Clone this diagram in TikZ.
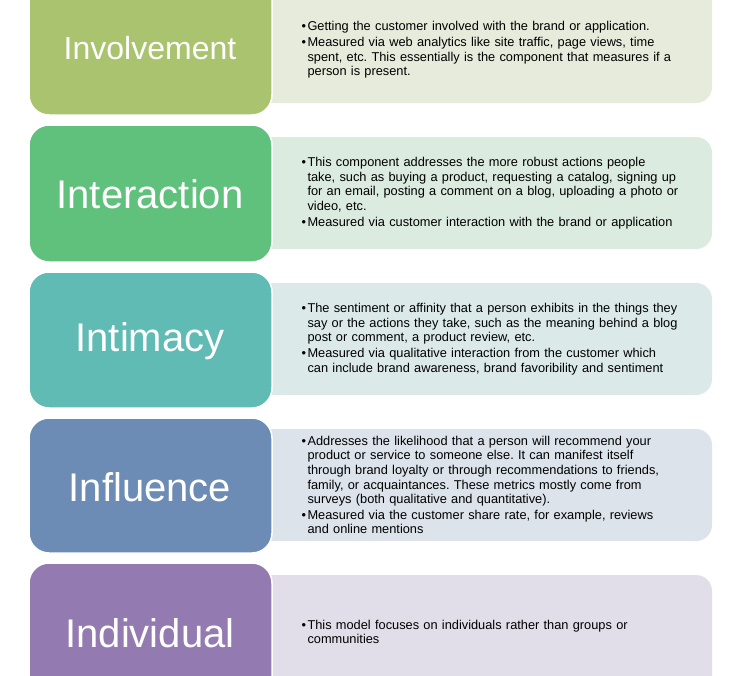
\documentclass[tikz,border=0pt]{standalone}
\usepackage{fontspec}
\setmainfont{Liberation Sans}
\frenchspacing
\begin{document}
\begin{tikzpicture}[x=1pt,y=-1pt,
 lbox/.style={draw=white,line width=1.5pt,rounded corners=20pt},
 tbox/.style={rounded corners=16pt},
 title/.style={white,font=\fontsize{40}{44}\selectfont},
 body/.style={anchor=west,align=left,font=\fontsize{12.8}{14.6}\selectfont,text width=430pt}]
\useasboundingbox (0,0) rectangle (731,675);
\clip (0,0) rectangle (731,675);
\definecolor{c1}{HTML}{A9C36F}\definecolor{t1}{HTML}{E6EBDC}
\definecolor{c2}{HTML}{5FC17C}\definecolor{t2}{HTML}{DBEBE0}
\definecolor{c3}{HTML}{5FBBB4}\definecolor{t3}{HTML}{DBEAE9}
\definecolor{c4}{HTML}{6C8CB6}\definecolor{t4}{HTML}{DDE3EB}
\definecolor{c5}{HTML}{937BB2}\definecolor{t5}{HTML}{E2DEE9}
\newcommand\bl{\makebox[6pt][l]{•}}
\foreach \i/\lt/\lb/\rt/\rb in {1/-20/115/-20/103, 2/125/262/137/249, 3/272/408/283/395, 4/418/553/429/541, 5/563/700/575/700}{
  \fill[t\i,tbox] (240,\rt) rectangle (712,\rb);
  \fill[c\i,lbox] (29,\lt) rectangle (272,\lb);
}
\node[title,font=\fontsize{32}{36}\selectfont] (n1) at (150,48) {Involvement};
\node[title] (n2) at (150,194) {Interaction};
\node[title] (n3) at (150,341) {Intimacy};
\node[title] (n4) at (150,487) {Influence};
\node[title] (n5) at (150,633) {Individual};
\node[body] (b1) at (298,50) {\bl Getting the customer involved with the brand or application.\\[1pt]
\bl Measured via web analytics like site traffic, page views, time\\\hspace*{6pt}spent, etc. This essentially is the component that measures if a\\\hspace*{6pt}person is present.};
\node[body] (b2) at (298,193) {\bl This component addresses the more robust actions people\\\hspace*{6pt}take, such as buying a product, requesting a catalog, signing up\\\hspace*{6pt}for an email, posting a comment on a blog, uploading a photo or\\\hspace*{6pt}video, etc.\\[1pt]
\bl Measured via customer interaction with the brand or application};
\node[body] (b3) at (298,339) {\bl The sentiment or affinity that a person exhibits in the things they\\\hspace*{6pt}say or the actions they take, such as the meaning behind a blog\\\hspace*{6pt}post or comment, a product review, etc.\\[1pt]
\bl Measured via qualitative interaction from the customer which\\\hspace*{6pt}can include brand awareness, brand favoribility and sentiment};
\node[body] (b4) at (298,485) {\bl Addresses the likelihood that a person will recommend your\\\hspace*{6pt}product or service to someone else. It can manifest itself\\\hspace*{6pt}through brand loyalty or through recommendations to friends,\\\hspace*{6pt}family, or acquaintances. These metrics mostly come from\\\hspace*{6pt}surveys (both qualitative and quantitative).\\[1pt]
\bl Measured via the customer share rate, for example, reviews\\\hspace*{6pt}and online mentions};
\node[body] (b5) at (298,632) {\bl This model focuses on individuals rather than groups or\\\hspace*{6pt}communities};
\end{tikzpicture}
\end{document}
